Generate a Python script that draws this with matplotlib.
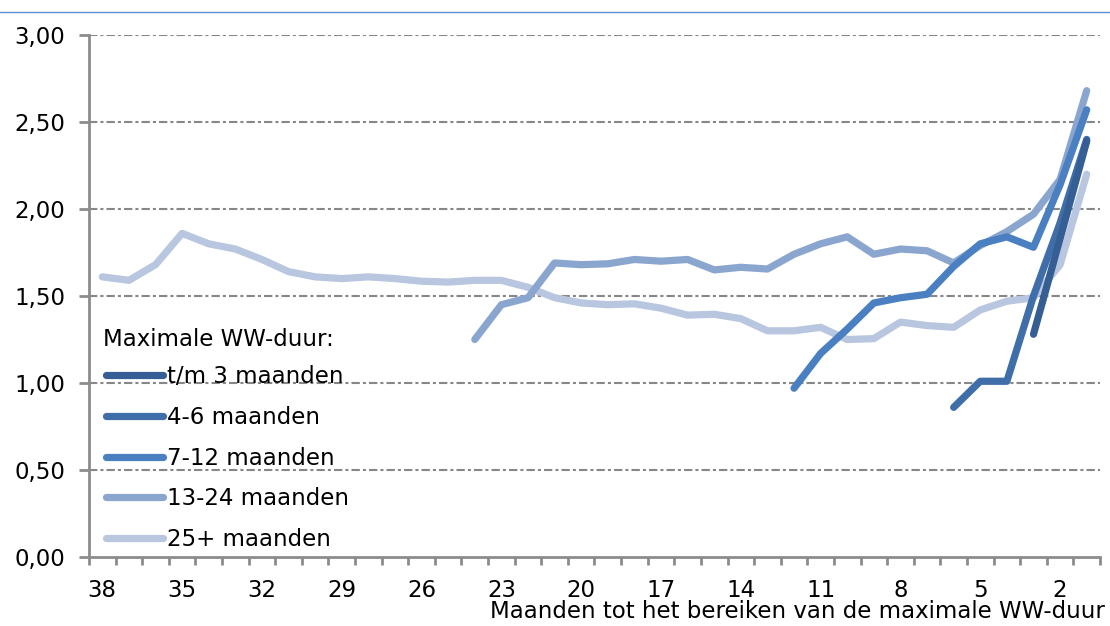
import numpy as np
import matplotlib.pyplot as plt
from matplotlib.lines import Line2D

plt.rcParams['font.family'] = ['DejaVu Sans']
plt.rcParams['lines.scale_dashes'] = False

# months until max WW duration is reached (38 ... 1)
months = list(range(38, 0, -1))

labels = ["t/m 3 maanden", "4-6 maanden", "7-12 maanden", "13-24 maanden", "25+ maanden"]
colors = ["#355e94", "#3f6ea9", "#4a80c1", "#8aa6cf", "#b8c6df"]

# each series starts at the month given and runs down to month 1
start_tm3 = 3
vals_tm3 = [1.28, 1.83, 2.39]
start_4_6 = 6
vals_4_6 = [0.86, 1.01, 1.01, 1.50, 1.92, 2.40]
start_7_12 = 12
vals_7_12 = [0.97, 1.17, 1.31, 1.46, 1.49, 1.51, 1.67, 1.80, 1.84, 1.78, 2.14, 2.57]
start_13_24 = 24
vals_13_24 = [1.25, 1.45, 1.49, 1.69, 1.68, 1.685, 1.71, 1.70, 1.71, 1.65, 1.665, 1.655,
              1.74, 1.80, 1.84, 1.74, 1.77, 1.76, 1.69, 1.79, 1.87, 1.97, 2.17, 2.68]
start_25 = 38
vals_25 = [1.61, 1.59, 1.68, 1.86, 1.80, 1.77, 1.71, 1.64, 1.61, 1.60, 1.61, 1.60, 1.585,
           1.58, 1.59, 1.59, 1.55, 1.49, 1.46, 1.45, 1.455, 1.43, 1.39, 1.395, 1.37, 1.30,
           1.30, 1.32, 1.25, 1.255, 1.35, 1.33, 1.32, 1.42, 1.47, 1.49, 1.68, 2.20]

starts = [start_tm3, start_4_6, start_7_12, start_13_24, start_25]
series = [vals_tm3, vals_4_6, vals_7_12, vals_13_24, vals_25]

yticks = [0, 0.5, 1.0, 1.5, 2.0, 2.5, 3.0]
xticks = list(range(38, 0, -3))

fs = 16.5

fig = plt.figure(figsize=(11.10, 6.26), dpi=100)
ax = fig.add_axes([89 / 1110, 1 - 557 / 626, 1011 / 1110, 522 / 626])

grid_col = "#878787"
for y in yticks[1:]:
    ax.axhline(y, color=grid_col, lw=1.5, dashes=(6, 2.2, 2.2, 2.2), zorder=1)

for i, (s, v, lab, c) in enumerate(zip(starts, series, labels, colors)):
    x = list(range(s, s - len(v), -1))
    ax.plot(x, v, color=c, lw=5.2, solid_capstyle='round', solid_joinstyle='round',
            label=lab, zorder=10 - i)

ax.set_xlim(38.5, 0.5)
ax.set_ylim(0, 3.0)
ax.set_yticks(yticks)
ax.set_yticklabels([f"{t:.2f}".replace(".", ",") for t in yticks])
ax.set_xticks(xticks)
ax.set_xticklabels([str(t) for t in xticks])
ax.set_xticks(np.arange(38.5, 0, -1), minor=True)

for side in ["top", "right"]:
    ax.spines[side].set_visible(False)
for side in ["left", "bottom"]:
    ax.spines[side].set_color("#8c8c8c")
    ax.spines[side].set_linewidth(2)

ax.tick_params(axis='y', length=7, width=2, color="#8c8c8c", pad=10, labelsize=fs)
ax.tick_params(axis='x', which='major', length=0, pad=16, labelsize=fs)
ax.tick_params(axis='x', which='minor', length=6, width=2, color="#8c8c8c")

fig.text(1105 / 1110, 1 - 612 / 626, "Maanden tot het bereiken van de maximale WW-duur",
         ha='right', va='center', fontsize=fs)

leg = ax.legend(loc='lower left', bbox_to_anchor=(17 / 1011, 6 / 522), frameon=False,
                fontsize=fs, handlelength=2.5, handletextpad=0.15, labelspacing=0.77,
                borderpad=0, borderaxespad=0)
for h in leg.get_lines():
    h.set_linewidth(5.2)
fig.text(103 / 1110, 1 - 340 / 626, "Maximale WW-duur:", ha='left', va='center', fontsize=fs)

# thin blue rule across the top of the figure
fig.add_artist(Line2D([0, 1], [1 - 12 / 626, 1 - 12 / 626], transform=fig.transFigure,
                      color="#5b8fd0", lw=1))

fig.savefig("out.png", dpi=100)
